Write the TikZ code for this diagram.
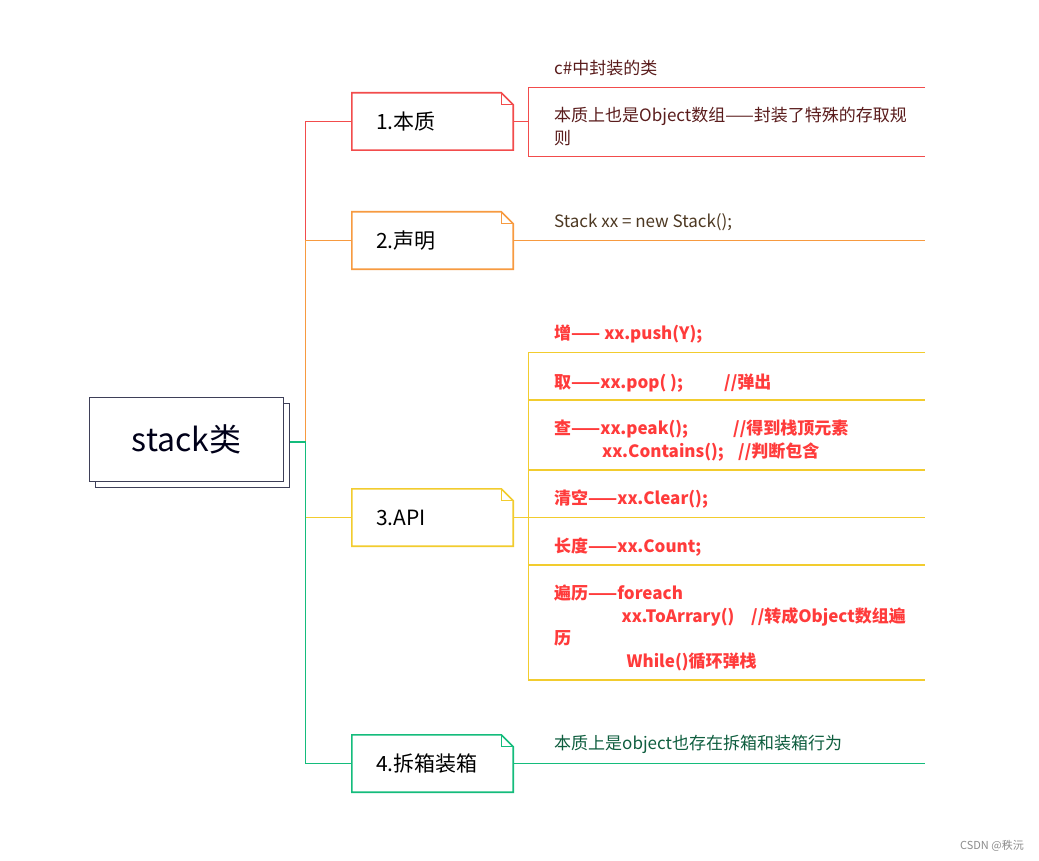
\documentclass[tikz,border=0pt]{standalone}
\usepackage{fontspec}
\setmainfont{Noto Sans CJK SC}
\usetikzlibrary{calc,shadows}
\definecolor{cred}{HTML}{F24C4C}
\definecolor{corange}{HTML}{F79A40}
\definecolor{cyellow}{HTML}{F2CC2E}
\definecolor{cgreen}{HTML}{14BC7C}
\definecolor{croot}{HTML}{3E3F58}
\definecolor{tred}{HTML}{5A1C1C}
\definecolor{tbrown}{HTML}{4D3822}
\definecolor{tapi}{HTML}{FF3B3B}
\definecolor{tgreen}{HTML}{0F5E3F}
\tikzset{
  branch/.style={minimum width=161pt, minimum height=57pt, inner ysep=0pt, inner xsep=24pt,
    text width=113pt, align=left, font=\fontsize{21}{25}\selectfont, text=black, fill=white},
  item/.style={anchor=base west, inner sep=0pt, font=\fontsize{17}{20}\selectfont},
  apiitem/.style={item, font=\fontsize{17}{20}\selectfont\bfseries, text=tapi},
  conn/.style={line width=1.4pt},
  rootbox/.style={draw=croot, line width=1.8pt, fill=white, minimum width=194pt, minimum height=84pt,
    font=\fontsize{32}{36}\selectfont, text=black!90!blue,
    copy shadow={shadow xshift=6pt, shadow yshift=-6pt, draw=croot, fill=white, line width=1.8pt}},
}
\newcommand\mynote[2]{%
  \draw[#2, line width=1.6pt, line join=miter]
    (#1.south west) -- (#1.north west) -- ([xshift=-12pt]#1.north east)
    -- ([yshift=-12pt]#1.north east) -- (#1.south east) -- cycle;
  \draw[#2, line width=1pt]
    ([xshift=-12pt]#1.north east) -- ([xshift=-12pt,yshift=-12pt]#1.north east)
    -- ([yshift=-12pt]#1.north east);
}
\begin{document}
\begin{tikzpicture}[x=1pt,y=-1pt]
\useasboundingbox (0,0) rectangle (1039,861);
\fill[white] (0,0) rectangle (1039,861);

% junctions on the trunk
\coordinate (j1) at (305.5,121.5);
\coordinate (j2) at (305.5,240.5);
\coordinate (jr) at (305.5,442);
\coordinate (j3) at (305.5,517.5);
\coordinate (j4) at (305.5,763.5);

% root
\node[rootbox] (root) at (186.5,439.5) {stack类};

% branch nodes (text placed, outlines drawn later)
\node[branch] (b1) at (432.5,121.5) {1.本质};
\node[branch] (b2) at (432.5,240.5) {2.声明};
\node[branch] (b3) at (432.5,517.5) {3.API};
\node[branch] (b4) at (432.5,763.5) {4.拆箱装箱};

% trunk connectors
\draw[conn, cred] (b1.west) -- (j1) -- (j2);
\draw[conn, corange] (b2.west) -- (j2) -- (jr);
\draw[conn, cgreen] ([xshift=6pt]root.east |- jr) -- (jr) -- (j4) -- (b4.west);
\draw[conn, cyellow] (j3) -- (b3.west);

\mynote{b1}{cred}
\mynote{b2}{corange}
\mynote{b3}{cyellow}
\mynote{b4}{cgreen}

% --- 1. children
\coordinate (v1a) at (528.5,87.5);
\coordinate (v1b) at (528.5,156.5);
\coordinate (e1a) at (925,87.5);
\coordinate (e1b) at (925,156.5);
\draw[conn, cred] (b1.east) -- (v1a |- b1.east);
\draw[conn, cred] (e1a) -- (v1a) -- (v1b) -- (e1b);
\node[item, text=tred] (c11) at (554,74.5) {c\#中封装的类};
\node[item, text=tred] (c12) at (554,121.5) {本质上也是Object数组——封装了特殊的存取规};
\node[item, text=tred] (c13) at (554,144.5) {则};

% --- 2. child
\coordinate (e2) at (925,240.5);
\draw[conn, corange] (b2.east) -- (e2);
\node[item, text=tbrown] (c21) at (554,227.5) {Stack xx = new Stack();};

% --- 3. children
\coordinate (v3a) at (528.5,352.5);
\coordinate (v3b) at (528.5,680);
\coordinate (h1) at (925,352.5);
\coordinate (h2) at (925,400);
\coordinate (h3) at (925,470);
\coordinate (h4) at (925,517.5);
\coordinate (h5) at (925,565);
\coordinate (h6) at (925,680);
\draw[conn, cyellow] (b3.east) -- (v3a |- b3.east);
\draw[conn, cyellow] (h1) -- (v3a) -- (v3b) -- (h6);
\foreach \h in {h2,h3,h4,h5} \draw[conn, cyellow] (v3a |- \h) -- (\h);

\node[apiitem] (a1) at (554,339.5) {增—— xx.push(Y);};
\node[apiitem] (a2) at (554,388) {取——xx.pop( );};
\node[apiitem] (a2c) at (724,388) {//弹出};
\node[apiitem] (a3) at (554,434.5) {查——xx.peak();};
\node[apiitem] (a3c) at (733,434.5) {//得到栈顶元素};
\node[apiitem] (a3b) at (602,457.5) {xx.Contains();};
\node[apiitem] (a3bc) at (738,457.5) {//判断包含};
\node[apiitem] (a4) at (554,504.5) {清空——xx.Clear();};
\node[apiitem] (a5) at (554,552) {长度——xx.Count;};
\node[apiitem] (a6) at (554,599) {遍历——foreach};
\node[apiitem] (a6b) at (621.5,622.5) {xx.ToArrary()};
\node[apiitem] (a6bc) at (751,622.5) {//转成Object数组遍};
\node[apiitem] (a6c) at (554,644.5) {历};
\node[apiitem] (a6d) at (626.5,667) {While()循环弹栈};

% --- 4. child
\coordinate (e4) at (925,763.5);
\draw[conn, cgreen] (b4.east) -- (e4);
\node[item, text=tgreen] (c41) at (554,749.5) {本质上是object也存在拆箱和装箱行为};

% watermark
\node[anchor=base east, inner sep=0pt, font=\fontsize{11}{13}\selectfont, text=black!45] (wm) at (1024,849) {CSDN @秩沅};
\end{tikzpicture}
\end{document}
